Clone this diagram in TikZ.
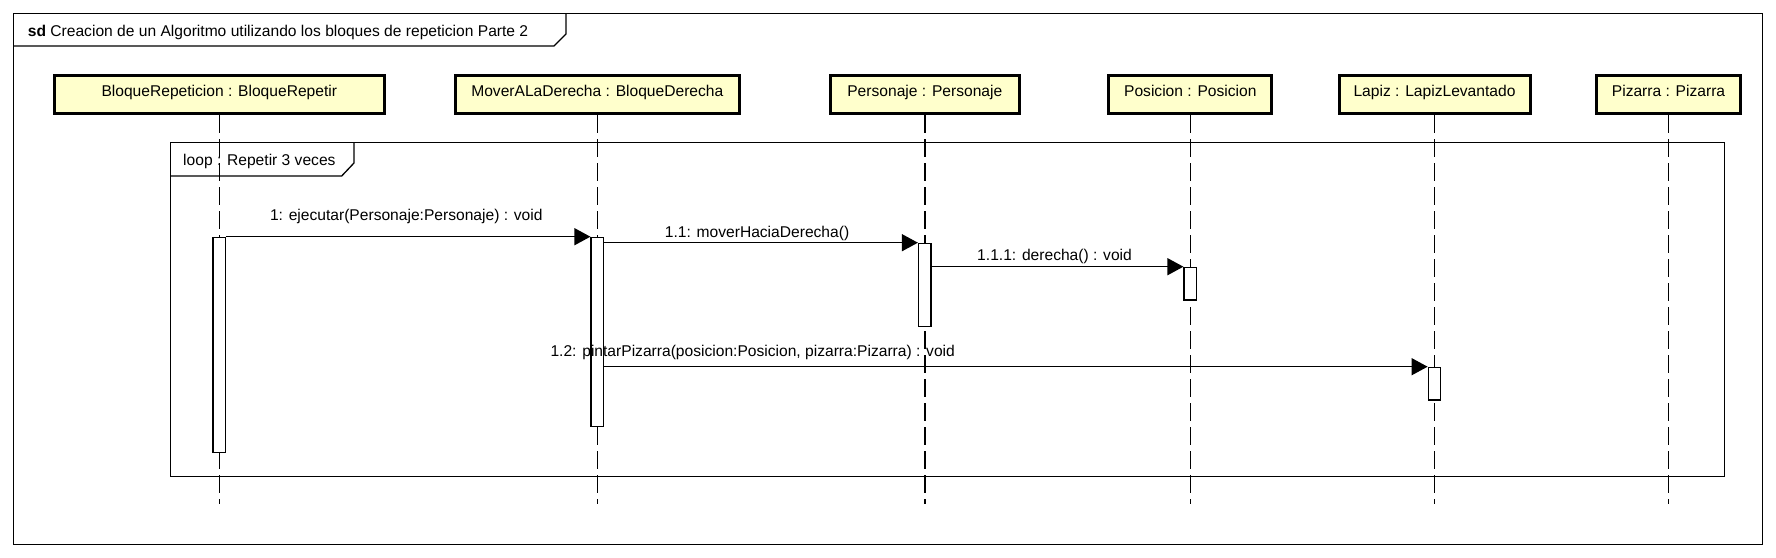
\documentclass[tikz,border=0pt]{standalone}
\usepackage{fontspec}
\setmainfont{Liberation Sans}
\usetikzlibrary{arrows.meta}
\definecolor{boxfill}{HTML}{FFFFCC}
\begin{document}
\begin{tikzpicture}[x=1pt,y=-1pt,
  every node/.style={font=\fontsize{15.6}{18}\selectfont, inner sep=0pt, text=black},
  obj/.style={draw, line width=3pt, fill=boxfill, minimum height=38pt, text height=11pt, text depth=8pt, anchor=center},
  act/.style={draw, line width=1.3pt, fill=white, minimum width=12.5pt, anchor=north},
  life/.style={line width=1.5pt, dash pattern=on 18pt off 6pt},
  msg/.style={line width=1.3pt, -{Triangle[length=16pt,width=17pt]}},
  frm/.style={line width=1.3pt},
  lbl/.style={anchor=base},
]
\useasboundingbox (0,0) rectangle (1776,557);

% outer frame and title tab
\draw[frm] (13.3,13.3) rectangle (1762.7,544.3);
\draw[frm] (13.3,46) -- (554,46) -- (566,34) -- (566,13.3);
\node[anchor=base west] (title) at (27.7,36.7) {{\bfseries sd} Creacion de un Algoritmo utilizando los bloques de repeticion Parte 2};

% loop frame
\draw[frm] (170.3,142.7) rectangle (1724.3,476.3);
\draw[frm] (170.3,176) -- (341.7,176) -- (354,163) -- (354,142.7);
\node[anchor=base west] (looplbl) at (183,165) {loop : Repetir 3 veces};

% lifeline end level
\coordinate (bot) at (0,504);

% lifeline heads
\node[obj, minimum width=330pt] (b1) at (219.3,94.5) {BloqueRepeticion : BloqueRepetir};
\node[obj, minimum width=284.5pt] (b2) at (597.3,94.5) {MoverALaDerecha : BloqueDerecha};
\node[obj, minimum width=189pt] (b3) at (924.8,94.5) {Personaje : Personaje};
\node[obj, minimum width=163pt] (b4) at (1190.3,94.5) {Posicion : Posicion};
\node[obj, minimum width=191pt] (b5) at (1434.5,94.5) {Lapiz : LapizLevantado};
\node[obj, minimum width=144.7pt] (b6) at (1668.5,94.5) {Pizarra : Pizarra};

% lifelines
\foreach \b in {b1,b2,b3,b4,b5,b6}{
  \draw[life] (\b.south) -- (\b.south |- bot);
}

% activations
\node[act, minimum height=215.3pt] (a1) at (219.3,236.7) {};
\node[act, minimum height=189.3pt] (a2) at (597.3,236.7) {};
\node[act, minimum height=83.3pt] (a3) at (924.8,242.7) {};
\node[act, minimum height=32.6pt] (a4) at (1190.3,266.7) {};
\node[act, minimum height=32.6pt] (a5) at (1434.5,366.7) {};

% messages
\draw[msg] (a1.north east) -- node[lbl, pos=0.5, xshift=-2pt, yshift=16.7pt] {1: ejecutar(Personaje:Personaje) : void} (a2.north west);
\draw[msg] (a2.east |- a3.north) -- node[lbl, pos=0.5, xshift=-4pt, yshift=5.4pt] {1.1: moverHaciaDerecha()} (a3.north west);
\draw[msg] (a3.east |- a4.north) -- node[lbl, pos=0.5, xshift=-3pt, yshift=6.7pt] {1.1.1: derecha() : void} (a4.north west);
\draw[msg] (a2.east |- a5.north) -- (a5.north west) node[anchor=base west, pos=0, xshift=-54.3pt, yshift=10.7pt] {1.2: pintarPizarra(posicion:Posicion, pizarra:Pizarra) : void};
\end{tikzpicture}
\end{document}
